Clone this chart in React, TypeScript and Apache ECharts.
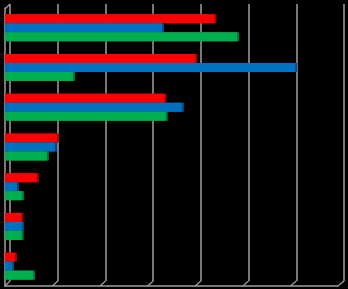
import React, { useEffect, useRef } from "react";
import * as echarts from "echarts";

const categories = ["1", "2", "3", "4", "5", "6", "7"];
const redValues = [4.4, 4.0, 3.35, 1.09, 0.67, 0.34, 0.21];
const blueValues = [3.3, 6.1, 3.72, 1.05, 0.25, 0.36, 0.15];
const greenValues = [4.88, 1.43, 3.38, 0.88, 0.36, 0.35, 0.59];
const tickValues = [0, 1, 2, 3, 4, 5, 6, 7];
const axisMin = 0;
const axisMax = 7;
const axisStep = 1;

export default function App() {
  const ref = useRef<HTMLDivElement>(null);
  useEffect(() => {
    if (!ref.current) return;
    const chart = echarts.init(ref.current, null, { renderer: "svg" });
    const gridColor = "#a0a0a0";
    const bar = (name: string, data: number[], color: string, edge: string) => ({
      type: "bar",
      name,
      data,
      xAxisIndex: 1,
      yAxisIndex: 1,
      barWidth: 9,
      barGap: "0%",
      itemStyle: {
        color,
        shadowColor: edge,
        shadowOffsetX: 2,
        shadowOffsetY: 0,
        shadowBlur: 0,
      },
    });
    chart.setOption({
      animation: false,
      backgroundColor: "#000000",
      grid: [
        { left: 10, right: 4, top: 4, bottom: 8 },
        { left: 5, right: 10, top: 8, bottom: 3 },
      ],
      xAxis: [
        {
          gridIndex: 0,
          type: "value",
          min: axisMin,
          max: axisMax,
          interval: axisStep,
          axisLine: { show: false },
          axisTick: { show: false },
          axisLabel: { show: false },
          splitLine: { show: true, lineStyle: { color: gridColor, width: 1.5 } },
        },
        {
          gridIndex: 1,
          type: "value",
          min: axisMin,
          max: axisMax,
          interval: axisStep,
          axisLine: { show: true, lineStyle: { color: gridColor, width: 1.5 } },
          axisTick: { show: false },
          axisLabel: { show: false },
          splitLine: { show: false },
        },
      ],
      yAxis: [
        {
          gridIndex: 0,
          type: "category",
          data: categories,
          inverse: true,
          show: false,
        },
        {
          gridIndex: 1,
          type: "category",
          data: categories,
          inverse: true,
          axisLine: { show: true, lineStyle: { color: gridColor, width: 1.5 } },
          axisTick: { show: false },
          axisLabel: { show: false },
        },
      ],
      series: [
        bar("Red", redValues, "#ff0000", "#b00000"),
        bar("Blue", blueValues, "#0070c0", "#004c85"),
        bar("Green", greenValues, "#00b050", "#007a37"),
      ],
    });
    const frontY = 286;
    const backY = 281;
    const lines: any[] = tickValues.map((v) => {
      const fx = chart.convertToPixel({ xAxisIndex: 1 }, v) as number;
      const bx = chart.convertToPixel({ xAxisIndex: 0 }, v) as number;
      return {
        type: "line",
        shape: { x1: fx, y1: frontY, x2: bx, y2: backY },
        style: { stroke: gridColor, lineWidth: 1.2 },
        silent: true,
      };
    });
    const fx0 = chart.convertToPixel({ xAxisIndex: 1 }, 0) as number;
    const bx0 = chart.convertToPixel({ xAxisIndex: 0 }, 0) as number;
    lines.push({
      type: "line",
      shape: { x1: fx0, y1: 9, x2: bx0, y2: 4 },
      style: { stroke: gridColor, lineWidth: 1.2 },
      silent: true,
    });
    chart.setOption({ graphic: lines });
    return () => chart.dispose();
  }, []);
  return (
    <div
      ref={ref}
      style={{ position: "absolute", left: 0, top: 0, width: 348, height: 289 }}
    />
  );
}
